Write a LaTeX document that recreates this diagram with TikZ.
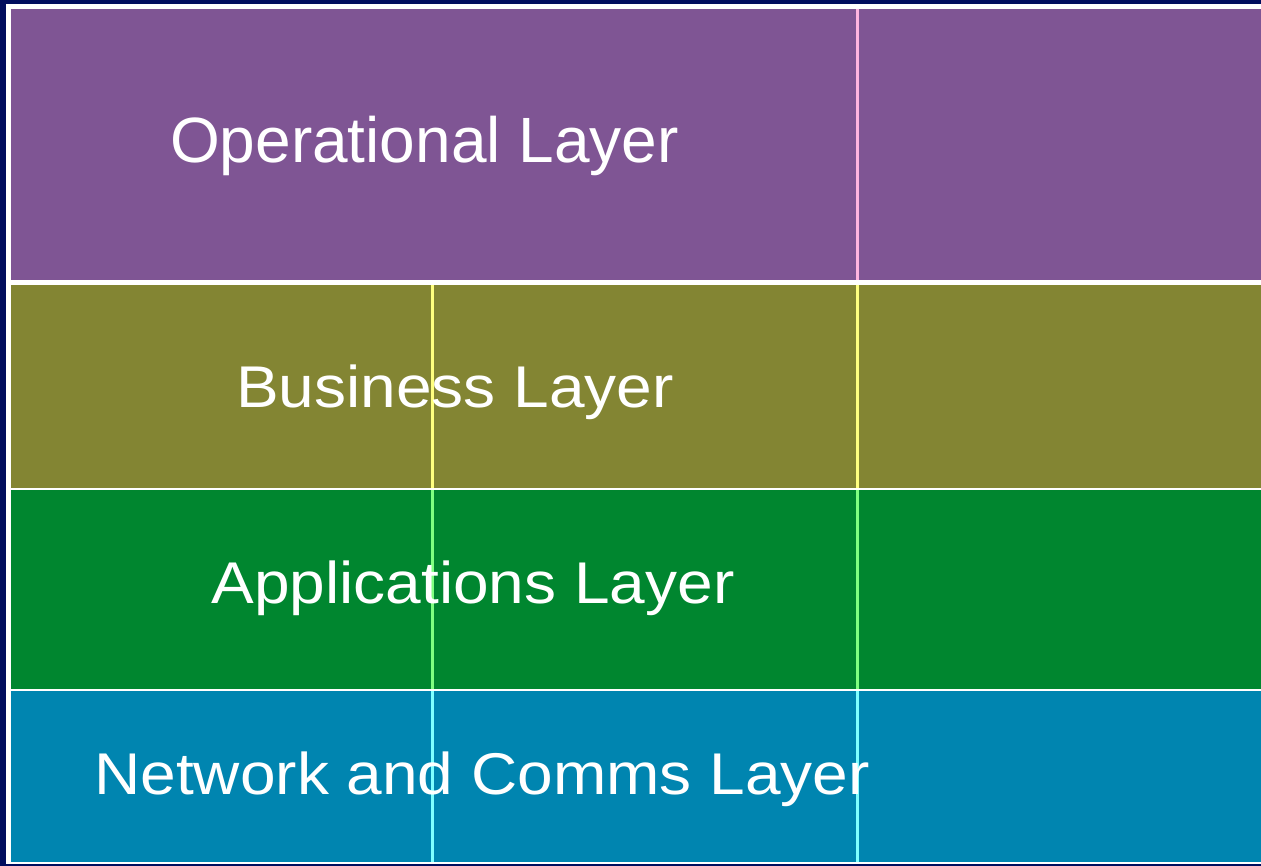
\documentclass[tikz,border=0pt]{standalone}
\usepackage{fontspec}
\setmainfont{Liberation Sans}
\definecolor{navy}{HTML}{000D5E}
\definecolor{oppurple}{HTML}{7F5594}
\definecolor{busolive}{HTML}{838533}
\definecolor{appgreen}{HTML}{00862F}
\definecolor{netblue}{HTML}{0085B0}
\definecolor{linepink}{HTML}{FFB4E0}
\definecolor{lineyellow}{HTML}{FFFF80}
\definecolor{linegreen}{HTML}{80FF80}
\definecolor{linecyan}{HTML}{80FFFF}
\tikzset{
  layertext/.style={text=white, anchor=base, inner sep=0pt, font=\fontsize{64}{70}\selectfont},
  divline/.style={line width=3pt}
}
\begin{document}
\begin{tikzpicture}[x=1pt,y=-1pt]
\useasboundingbox (0,0) rectangle (1261,866);
\fill[navy] (0,0) rectangle (1261,866);
\fill[white] (6,4) rectangle (1261,864);
% layers
\fill[oppurple] (11,9) rectangle (1261,280);
\fill[busolive] (11,285) rectangle (1261,487.5);
\fill[appgreen] (11,490) rectangle (1261,688.5);
\fill[netblue] (11,691) rectangle (1261,861.5);
% divider lines
\draw[divline, linepink] (857.5,9) -- (857.5,280);
\draw[divline, lineyellow] (857.5,285) -- (857.5,487.5);
\draw[divline, linegreen] (857.5,490) -- (857.5,688.5);
\draw[divline, linecyan] (857.5,691) -- (857.5,861.5);
\draw[divline, lineyellow] (432.5,285) -- (432.5,487.5);
\draw[divline, linegreen] (432.5,490) -- (432.5,688.5);
\draw[divline, linecyan] (432.5,691) -- (432.5,861.5);
% labels
\node[layertext] (op) at (424.5,163) {Operational Layer};
\node[layertext] (bus) at (455,407) {\scalebox{1}[0.92]{Business Layer}};
\node[layertext] (app) at (473,603) {\scalebox{1}[0.92]{Applications Layer}};
\node[layertext] (net) at (482,794) {\scalebox{1}[0.92]{Network and Comms Layer}};
\end{tikzpicture}
\end{document}
